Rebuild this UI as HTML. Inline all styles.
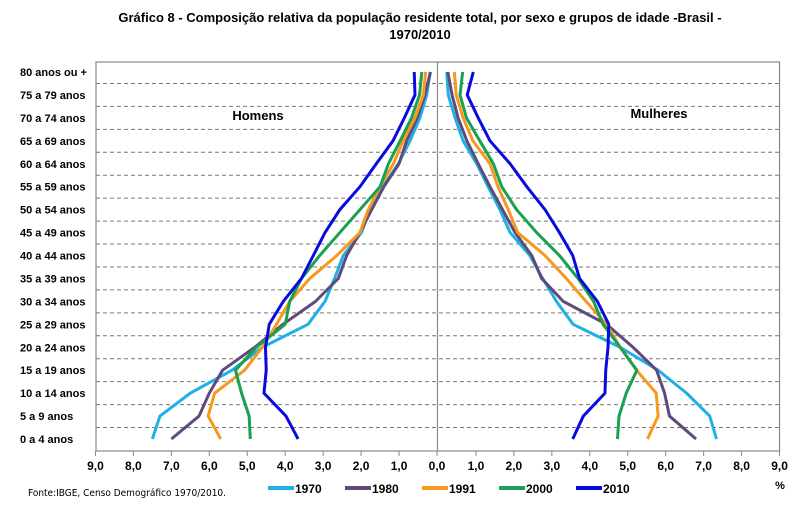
<!DOCTYPE html>
<html><head><meta charset="utf-8"><style>
body{margin:0;background:#fff;}
svg{display:block;font-family:"Liberation Sans",Arial,sans-serif;}
</style></head><body>
<svg id="chart" width="803" height="513">
<text x="420" y="22" text-anchor="middle" font-size="13" font-weight="bold">Gráfico 8 - Composição relativa da população residente total, por sexo e grupos de idade -Brasil -</text>
<text x="420" y="39" text-anchor="middle" font-size="13" font-weight="bold">1970/2010</text>
<g id="grid"></g>
<g id="axes"></g>
<g id="series"></g>
<text x="258" y="120" text-anchor="middle" font-size="13" font-weight="bold">Homens</text>
<text x="659" y="118" text-anchor="middle" font-size="13" font-weight="bold">Mulheres</text>
<text x="28" y="496" font-size="10" font-family="'DejaVu Sans Condensed','Liberation Sans Narrow',sans-serif">Fonte:IBGE, Censo Demográfico 1970/2010.</text>
<text x="780" y="489" text-anchor="middle" font-size="11" font-weight="bold">%</text>
<g id="legend"></g>
</svg>
<script>
const categories=["0 a 4 anos","5 a 9 anos","10 a 14 anos","15 a 19 anos","20 a 24 anos","25 a 29 anos","30 a 34 anos","35 a 39 anos","40 a 44 anos","45 a 49 anos","50 a 54 anos","55 a 59 anos","60 a 64 anos","65 a 69 anos","70 a 74 anos","75 a 79 anos","80 anos ou +"];
const years=["1970","1980","1991","2000","2010"];
const colors=["#1fb0e6","#5f4b7b","#f7991e","#1aa050","#0a0ae0"];
const men1970=[7.5,7.3,6.5,5.4,4.6,3.4,2.95,2.7,2.47,1.99,1.77,1.42,1.02,0.71,0.45,0.27,0.18];
const men1980=[7.0,6.27,6.0,5.65,4.8,4.06,3.2,2.6,2.38,2.03,1.72,1.4,1.0,0.8,0.52,0.32,0.17];
const men1991=[5.7,6.03,5.86,5.07,4.6,4.23,3.88,3.35,2.64,2.03,1.81,1.5,1.15,0.89,0.58,0.36,0.3];
const men2000=[4.92,4.95,5.15,5.31,4.76,4.0,3.88,3.57,3.09,2.56,2.03,1.5,1.28,0.97,0.67,0.46,0.4];
const men2010=[3.66,3.98,4.56,4.5,4.52,4.42,4.05,3.57,3.26,2.95,2.56,2.03,1.6,1.16,0.86,0.58,0.6];
const women1970=[7.34,7.16,6.55,5.8,4.8,3.56,3.12,2.76,2.42,1.9,1.63,1.32,1.02,0.66,0.45,0.27,0.23];
const women1980=[6.8,6.1,5.97,5.76,5.14,4.44,3.3,2.73,2.47,2.03,1.7,1.37,1.06,0.76,0.53,0.37,0.26];
const women1991=[5.52,5.8,5.75,5.23,4.8,4.44,3.9,3.38,2.82,2.1,1.85,1.58,1.37,0.92,0.66,0.48,0.43];
const women2000=[4.73,4.77,4.96,5.24,4.8,4.35,4.1,3.69,3.2,2.6,2.07,1.68,1.46,1.1,0.75,0.58,0.65];
const women2010=[3.55,3.83,4.4,4.42,4.48,4.5,4.2,3.73,3.55,3.2,2.82,2.34,1.9,1.37,1.06,0.77,0.93];
const tickValues=[9,8,7,6,5,4,3,2,1,0];

const NS="http://www.w3.org/2000/svg";
const L0=437,R0=438,UNIT=37.95,TOP=62,BOT=451;
const xL=v=>L0-v*UNIT, xR=v=>R0+v*UNIT;
const yC=i=>439-i*(367/16);
function mk(tag,attrs,parent){const e=document.createElementNS(NS,tag);for(const k in attrs)e.setAttribute(k,attrs[k]);parent.appendChild(e);return e;}
const grid=document.getElementById('grid'),axes=document.getElementById('axes'),ser=document.getElementById('series'),leg=document.getElementById('legend');
// frame
let fr=mk('rect',{x:96,y:TOP,width:xR(9)-96,height:BOT-TOP,fill:'none',stroke:'#888','stroke-width':1.2},axes);


let cl=mk('line',{x1:437.5,x2:437.5,y1:TOP,y2:BOT,stroke:'#888','stroke-width':1.2},axes);


// dashed lines and category labels
categories.forEach((c,i)=>{
  if(i<categories.length-1){
    const y=(yC(i)+yC(i+1))/2;
    const d=mk('line',{x1:96,x2:xR(9),y1:y,y2:y,stroke:'#777','stroke-width':1,'stroke-dasharray':'4,3'},grid);
    
    
  }
  const t=mk('text',{x:20,y:yC(i)+4,'font-size':11,'font-weight':'bold'},axes);
  t.textContent=c;
  
  
});
// ticks
tickValues.forEach(v=>{
  [xL(v),xR(v)].forEach((x,j)=>{
    if(v===0&&j===1)return;
    const tk=mk('line',{x1:x,x2:x,y1:BOT,y2:BOT+5,stroke:'#888'},axes);
    
    
    const t=mk('text',{x:x,y:BOT+19,'text-anchor':'middle','font-size':12,'font-weight':'bold'},axes);
    t.textContent=v.toFixed(1).replace('.',',');
    
    
  });
});
const men=[men1970,men1980,men1991,men2000,men2010];
const women=[women1970,women1980,women1991,women2000,women2010];
years.forEach((yr,k)=>{
  const pm=men[k].map((v,i)=>xL(v)+','+yC(i)).join(' ');
  const a=mk('polyline',{points:pm,fill:'none',stroke:colors[k],'stroke-width':3,'stroke-linejoin':'round'},ser);
  
  
  const pw=women[k].map((v,i)=>xR(v)+','+yC(i)).join(' ');
  const b=mk('polyline',{points:pw,fill:'none',stroke:colors[k],'stroke-width':3,'stroke-linejoin':'round'},ser);
  
  
  const lx=268+k*77;
  const s=mk('line',{x1:lx,x2:lx+26,y1:488,y2:488,stroke:colors[k],'stroke-width':4},leg);
  
  
  const t=mk('text',{x:lx+27,y:493,'font-size':12,'font-weight':'bold'},leg);
  t.textContent=yr;
  
  
});
</script>
</body></html>
